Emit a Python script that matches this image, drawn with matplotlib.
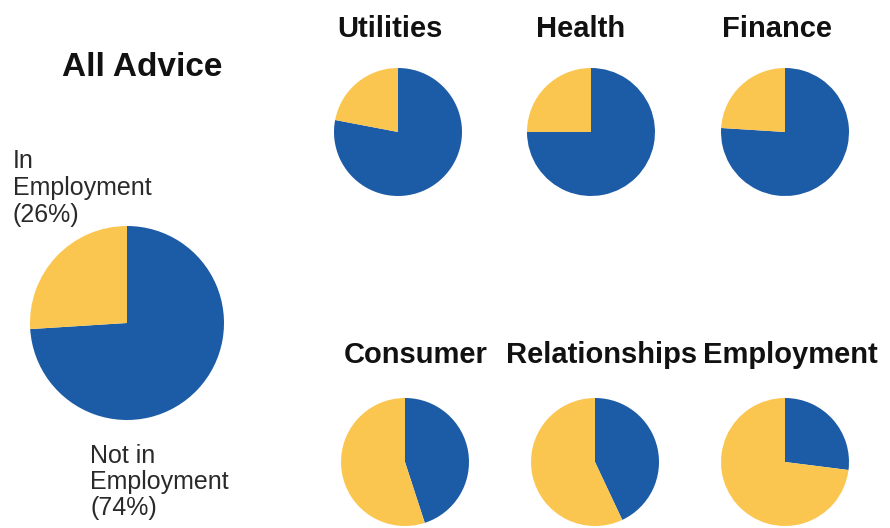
import matplotlib
matplotlib.use("Agg")
import matplotlib.pyplot as plt

plt.rcParams['font.family'] = ['Liberation Sans', 'DejaVu Sans']

# share of advice clients: not in employment / in employment (%)
categories = ['Utilities', 'Health', 'Finance', 'Consumer', 'Relationships', 'Employment']
not_employed = [78, 75, 76, 45, 43, 27]
employed = [22, 25, 24, 55, 57, 73]
all_not_employed = 74
all_employed = 26

BLUE = '#1c5ba6'
YELLOW = '#fbc650'

W, H = 890, 528
fig = plt.figure(figsize=(W / 100, H / 100), dpi=100)


def add_pie(cx, cy, r, vals):
    ax = fig.add_axes([(cx - r) / W, 1 - (cy + r) / H, 2 * r / W, 2 * r / H])
    ax.pie(vals, colors=[BLUE, YELLOW], startangle=90, counterclock=False,
           wedgeprops={'linewidth': 0})
    ax.set_xlim(-1, 1)
    ax.set_ylim(-1, 1)
    ax.set_aspect('auto')
    ax.axis('off')
    return ax


def txt(x, y, s, **kw):
    fig.text(x / W, 1 - y / H, s, **kw)


# main pie
add_pie(127, 323, 97, [all_not_employed, all_employed])
txt(142, 68, 'All Advice', fontsize=24, fontweight='bold', ha='center', va='center',
    color='#111111')
txt(13, 149, 'In\nEmployment\n(26%)', fontsize=18, ha='left', va='top',
    linespacing=1.15, color='#2a2a2a')
txt(90, 444, 'Not in\nEmployment\n(74%)', fontsize=18, ha='left', va='top',
    linespacing=1.1, color='#2a2a2a')

# small pies
pie_x = [398, 591, 785, 405, 595, 785]
pie_y = [132, 132, 132, 462, 462, 462]
title_x = [390, 581, 777, 416, 602, 790]
title_y = [29, 29, 29, 355, 355, 355]
for i, cat in enumerate(categories):
    add_pie(pie_x[i], pie_y[i], 64, [not_employed[i], employed[i]])
    txt(title_x[i], title_y[i], cat, fontsize=21, fontweight='bold', ha='center',
        va='center', color='#111111')

fig.savefig('out.png', dpi=100)
